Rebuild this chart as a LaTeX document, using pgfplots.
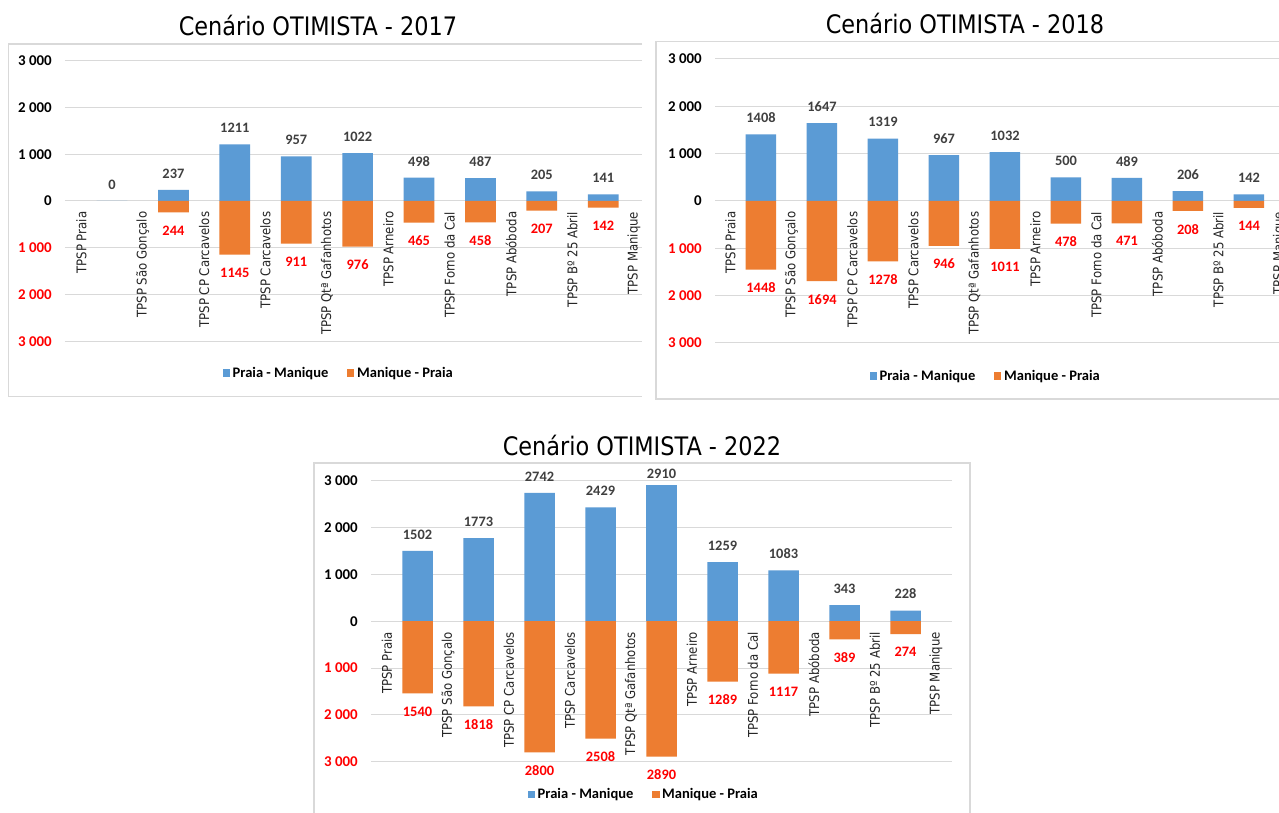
\documentclass[border=0pt]{standalone}
\usepackage{pgfplots}
\pgfplotsset{compat=1.18}
\usepackage{fontspec}
\setmainfont{Carlito}
\newfontfamily\catfont[FakeStretch=0.88]{DejaVu Sans}

\definecolor{barblue}{HTML}{5B9BD5}
\definecolor{barorange}{HTML}{ED7D31}
\definecolor{gridgray}{HTML}{D9D9D9}
\definecolor{framegray}{HTML}{D9D9D9}
\definecolor{valgray}{HTML}{404040}
\definecolor{txtdark}{HTML}{262626}
\definecolor{negred}{HTML}{FF0000}

\pgfplotsset{
  flowchart/.style={
    scale only axis, clip=false,
    ybar, bar width=0.5, bar shift=0pt,
    ymin=-3000, ymax=3000,
    ytick={-3000,-2000,-1000,0,1000,2000,3000},
    yticklabels={\textcolor{negred}{3 000},\textcolor{negred}{2 000},\textcolor{negred}{1 000},0,1 000,2 000,3 000},
    yticklabel style={font=\bfseries\fontsize{11.2}{13}\selectfont, anchor=east, inner sep=0pt, xshift=-9.75pt, text=black},
    xtick=\empty,
    ymajorgrids, grid style={gridgray, line width=0.75pt},
    axis line style={draw=none}, major tick length=0pt,
    legend columns=2,
    legend style={draw=none, fill=none, anchor=center,
      font=\bfseries\fontsize{10.9}{13}\selectfont, text=black,
      /tikz/every even column/.append style={column sep=12pt}},
    legend image code/.code={\fill[##1, draw=none] (0pt,-2.7pt) rectangle (5.6pt,2.7pt);},
    nodes near coords,
    /pgf/number format/.cd, 1000 sep={}, assume math mode=true,
  },
  up/.style={fill=barblue, draw=none,
    nodes near coords style={font=\bfseries\fontsize{10.8}{13}\selectfont, text=valgray, anchor=south, inner sep=0pt, yshift=8.5pt}},
  down/.style={fill=barorange, draw=none, point meta=explicit,
    nodes near coords style={font=\bfseries\fontsize{10.8}{13}\selectfont, text=negred, anchor=north, inner sep=0pt, yshift=-9.75pt}},
}
\tikzset{
  cat/.style={font=\catfont\fontsize{10}{12}\selectfont, text=txtdark, rotate=90, anchor=east, inner sep=0pt},
}

\newcommand\stations{%
  \node[cat] at ([yshift=-7.9pt]axis cs:0,0) {TPSP Praia};
  \node[cat] at ([yshift=-7.9pt]axis cs:1,0) {TPSP São Gonçalo};
  \node[cat] at ([yshift=-7.9pt]axis cs:2,0) {TPSP CP Carcavelos};
  \node[cat] at ([yshift=-7.9pt]axis cs:3,0) {TPSP Carcavelos};
  \node[cat] at ([yshift=-7.9pt]axis cs:4,0) {TPSP Qtª Gafanhotos};
  \node[cat] at ([yshift=-7.9pt]axis cs:5,0) {TPSP Arneiro};
  \node[cat] at ([yshift=-7.9pt]axis cs:6,0) {TPSP Forno da Cal};
  \node[cat] at ([yshift=-7.9pt]axis cs:7,0) {TPSP Abóboda};
  \node[cat] at ([yshift=-7.9pt]axis cs:8,0) {TPSP Bº 25 Abril};
  \node[cat] at ([yshift=-7.9pt]axis cs:9,0) {TPSP Manique};
}

\begin{document}
\begin{tikzpicture}
\useasboundingbox[fill=white] (0,0) rectangle (959.25pt,609.75pt);

% frames and titles, in pixel units measured from the top-left corner
\begin{scope}[x=0.75pt, y=-0.75pt, yshift=609.75pt]
  \draw[framegray, line width=1pt] (642,44) -- (8.3,44) -- (8.3,396.7) -- (642,396.7);
  \draw[framegray, line width=1pt] (1280,41.7) -- (656,41.7) -- (656,399) -- (1280,399);
  \draw[framegray, line width=1pt] (314,814) -- (314,463) -- (970,463) -- (970,814);
  \node[font=\catfont\fontsize{19.1}{22}\selectfont, anchor=base] at (318,35.7) {Cenário OTIMISTA - 2017};
  \node[font=\catfont\fontsize{19.1}{22}\selectfont, anchor=base] at (965,34) {Cenário OTIMISTA - 2018};
  \node[font=\catfont\fontsize{19.1}{22}\selectfont, anchor=base] at (642,456) {Cenário OTIMISTA - 2022};
\end{scope}

% 2017
\begin{axis}[flowchart, at={(48.75pt,353.8125pt)}, anchor=south west,
  width=432.75pt, height=210.375pt, xmin=-0.2655, xmax=9.132,
  legend style={at={(0.4749,-0.1132)}}]
\addplot[up] coordinates {(0.5,0) (1.5,237) (2.5,1211) (3.5,957) (4.5,1022) (5.5,498) (6.5,487) (7.5,205) (8.5,141)};
\addlegendentry{Praia - Manique}
\addplot[down] coordinates {(1.5,-244) [244] (2.5,-1145) [1145] (3.5,-911) [911] (4.5,-976) [976] (5.5,-465) [465] (6.5,-458) [458] (7.5,-207) [207] (8.5,-142) [142]};
\addlegendentry{Manique - Praia}
\stations
\end{axis}

% 2018
\begin{axis}[flowchart, at={(536.25pt,352.5pt)}, anchor=south west,
  width=423pt, height=213pt, xmin=-0.254, xmax=8.992,
  legend style={at={(0.4805,-0.1162)}}]
\addplot[up] coordinates {(0.5,1408) (1.5,1647) (2.5,1319) (3.5,967) (4.5,1032) (5.5,500) (6.5,489) (7.5,206) (8.5,142)};
\addlegendentry{Praia - Manique}
\addplot[down] coordinates {(0.5,-1448) [1448] (1.5,-1694) [1694] (2.5,-1278) [1278] (3.5,-946) [946] (4.5,-1011) [1011] (5.5,-478) [478] (6.5,-471) [471] (7.5,-208) [208] (8.5,-144) [144]};
\addlegendentry{Manique - Praia}
\stations
\end{axis}

% 2022
\begin{axis}[flowchart, at={(278.25pt,38.475pt)}, anchor=south west,
  width=435.75pt, height=210.75pt, xmin=-0.2623, xmax=9.2623,
  legend style={at={(0.470,-0.116)}}]
\addplot[up] coordinates {(0.5,1502) (1.5,1773) (2.5,2742) (3.5,2429) (5.5,1259) (6.5,1083) (7.5,343) (8.5,228)};
\addlegendentry{Praia - Manique}
\addplot[down] coordinates {(0.5,-1540) [1540] (1.5,-1818) [1818] (2.5,-2800) [2800] (3.5,-2508) [2508] (4.5,-2890) [2890] (5.5,-1289) [1289] (6.5,-1117) [1117] (7.5,-389) [389] (8.5,-274) [274]};
\addlegendentry{Manique - Praia}
% tallest bar: its label is kept inside the plot area, closer to the bar top
\addplot[up, forget plot, nodes near coords style={yshift=-3.9pt}] coordinates {(4.5,2910)};
\stations
\end{axis}
\end{tikzpicture}
\end{document}
